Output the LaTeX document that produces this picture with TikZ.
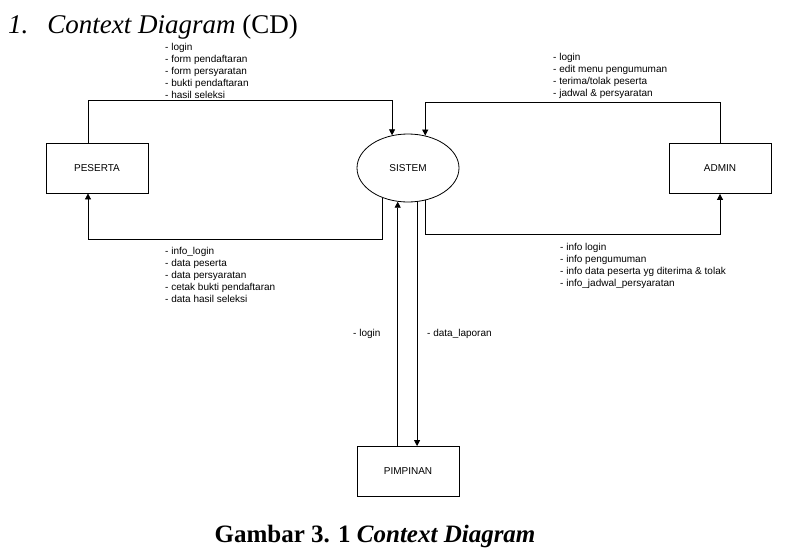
\documentclass[tikz,border=0pt]{standalone}
\usepackage{fontspec}
\setmainfont{Liberation Serif}
\setsansfont{Liberation Sans}
\usetikzlibrary{shapes.geometric,arrows.meta}

\tikzset{
    entity/.style={draw, line width=0.8pt, minimum width=102pt, minimum height=50pt, inner sep=0pt,
        font=\sffamily\fontsize{10}{12}\selectfont},
    process/.style={draw, ellipse, line width=0.8pt, minimum width=102pt, minimum height=68pt, inner sep=0pt,
        font=\sffamily\fontsize{10}{12}\selectfont},
    flow/.style={line width=0.8pt, -{Triangle[length=6pt,width=6pt]}},
    flowtext/.style={anchor=north west, align=left, inner sep=0pt,
        font=\sffamily\fontsize{10}{12}\selectfont}
}

\begin{document}
\begin{tikzpicture}[x=1pt,y=-1pt]
    \useasboundingbox (0,0) rectangle (792,557);

    % judul dan keterangan gambar
    \node[anchor=base west, inner sep=0pt, font=\fontsize{27}{30}\selectfont] (judul) at (8,33)
        {\textit{1.}\hspace{19pt}\textit{Context Diagram} (CD)};
    \node[anchor=base, inner sep=0pt, font=\bfseries\fontsize{25}{28}\selectfont] (caption) at (375,542)
        {Gambar 3. 1 \textit{Context Diagram}};

    % entitas dan proses
    \node[entity] (peserta) at (97,168) {PESERTA};
    \node[process] (sistem) at (408,168) {SISTEM};
    \node[entity] (admin) at (720,168.5) {ADMIN};
    \node[entity] (pimpinan) at (408,471.5) {PIMPINAN};

    % aliran data
    \draw[flow] ([xshift=-9pt]peserta.north) -- ++(0,-42) -| (sistem.116);
    \draw[flow] (admin.north) -- ++(0,-41) -| (sistem.62);
    \draw[flow] (sistem.298) -- ++(0,34) -| (admin.south);
    \draw[flow] (sistem.230) -- ++(0,41) -| ([xshift=-9pt]peserta.south);
    \draw[flow] (sistem.253 |- pimpinan.north) -- (sistem.253);
    \draw[flow] (sistem.285) -- (sistem.285 |- pimpinan.north);

    % label aliran data
    \node[flowtext] (lblPesertaIn) at (165,43)
        {- login\\- form pendaftaran\\- form persyaratan\\- bukti pendaftaran\\- hasil seleksi};
    \node[flowtext] (lblAdminIn) at (553,53)
        {- login\\- edit menu pengumuman\\- terima/tolak peserta\\- jadwal \& persyaratan};
    \node[flowtext] (lblAdminOut) at (560,243)
        {- info login\\- info pengumuman\\- info data peserta yg diterima \& tolak\\- info\_jadwal\_persyaratan};
    \node[flowtext] (lblPesertaOut) at (165,247)
        {- info\_login\\- data peserta\\- data persyaratan\\- cetak bukti pendaftaran\\- data hasil seleksi};
    \node[flowtext] (lblPimpinanIn) at (353,329) {- login};
    \node[flowtext] (lblPimpinanOut) at (427,329) {- data\_laporan};
\end{tikzpicture}
\end{document}
